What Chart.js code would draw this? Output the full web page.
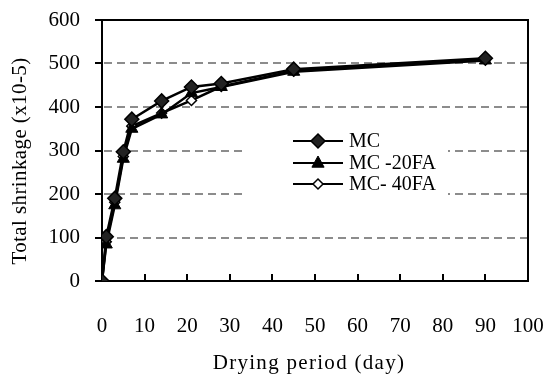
<!DOCTYPE html>
<html>
<head>
<meta charset="utf-8">
<script src="https://cdn.jsdelivr.net/npm/chart.js@4"></script>
<style>
  html, body { margin: 0; padding: 0; background: #fff; }
  #wrap { width: 550px; height: 374px; }
</style>
</head>
<body>
<div id="wrap"><canvas id="shrinkChart" width="550" height="374"></canvas></div>
<script>
const days = [0, 1, 3, 5, 7, 14, 21, 28, 45, 90];
const mc = [0, 102, 190, 297, 372, 414, 446, 454, 487, 512];
const mc20fa = [0, 84, 174, 281, 350, 383, 432, 446, 481, 507];
const mc40fa = [0, 90, 181, 286, 356, 386, 415, 447, 483, 509];
const seriesNames = ["MC", "MC -20FA", "MC- 40FA"];
const yTicks = [0, 100, 200, 300, 400, 500, 600];
const xTicks = [0, 10, 20, 30, 40, 50, 60, 70, 80, 90, 100];
const xTitle = "Drying period (day)";
const yTitle = "Total shrinkage (x10-5)";

const FONT = "'Liberation Serif', 'Times New Roman', serif";

const toPoints = vals => days.map((d, i) => ({ x: d, y: vals[i] }));

function drawMarker(ctx, style, r, x, y) {
    ctx.beginPath();
    if (style === "triangle") {
        ctx.moveTo(x, y - r);
        ctx.lineTo(x + r * 0.87, y + r * 0.6);
        ctx.lineTo(x - r * 0.87, y + r * 0.6);
    } else {
        ctx.moveTo(x, y - r);
        ctx.lineTo(x + r, y);
        ctx.lineTo(x, y + r);
        ctx.lineTo(x - r, y);
    }
    ctx.closePath();
}

// dashed gridlines, inward x ticks, frame, titles and the legend box
const framePlugin = {
    id: "frame",
    beforeDatasetsDraw(chart) {
        const { ctx, chartArea: a, scales } = chart;
        ctx.save();
        ctx.strokeStyle = "#8c8c8c";
        ctx.lineWidth = 2;
        ctx.setLineDash([8, 5]);
        yTicks.slice(1, -1).forEach(v => {
            const y = Math.round(scales.y.getPixelForValue(v));
            ctx.beginPath();
            ctx.moveTo(a.left + 2, y);
            ctx.lineTo(a.right, y);
            ctx.stroke();
        });
        ctx.setLineDash([]);
        ctx.strokeStyle = "#000";
        ctx.lineWidth = 2;
        xTicks.slice(1, -1).forEach(v => {
            const x = Math.round(scales.x.getPixelForValue(v));
            ctx.beginPath();
            ctx.moveTo(x, a.bottom);
            ctx.lineTo(x, a.bottom - 7);
            ctx.stroke();
        });
        ctx.strokeRect(a.left, a.top, a.right - a.left, a.bottom - a.top);
        ctx.restore();
    },
    afterDatasetsDraw(chart) {
        const { ctx } = chart;
        ctx.save();
        ctx.fillStyle = "#fff";
        ctx.fillRect(247, 128, 201, 72);
        const rows = [141, 163, 184];
        chart.data.datasets.forEach((ds, i) => {
            const y = rows[i];
            ctx.strokeStyle = "#000";
            ctx.lineWidth = 2;
            ctx.beginPath();
            ctx.moveTo(293, y);
            ctx.lineTo(343, y);
            ctx.stroke();
            ctx.fillStyle = ds.pointBackgroundColor;
            ctx.strokeStyle = ds.pointBorderColor;
            ctx.lineWidth = ds.pointBorderWidth;
            drawMarker(ctx, ds.pointStyle, ds.pointRadius, 318, y);
            ctx.fill();
            ctx.stroke();
            ctx.fillStyle = "#000";
            ctx.font = "20px " + FONT;
            ctx.textBaseline = "middle";
            ctx.textAlign = "left";
            ctx.fillText(ds.label, 349, y + 1);
        });

        // axis titles, with the wide spacing of the original
        ctx.fillStyle = "#000";
        ctx.font = "21px " + FONT;
        ctx.textAlign = "center";
        ctx.textBaseline = "middle";
        ctx.letterSpacing = "1.3px";
        ctx.fillText(xTitle, 309, 363);
        ctx.letterSpacing = "0.4px";
        ctx.translate(20, 161);
        ctx.rotate(-Math.PI / 2);
        ctx.fillText(yTitle, 0, 0);
        ctx.restore();
    }
};

const baseSet = {
    borderColor: "#000",
    borderWidth: 2.5,
    pointBorderColor: "#000",
    tension: 0
};

new Chart(document.getElementById("shrinkChart"), {
    type: "line",
    data: {
        datasets: [
            { ...baseSet, label: seriesNames[0], data: toPoints(mc),
              pointStyle: "rectRot", pointRadius: 7, pointBackgroundColor: "#222", pointBorderWidth: 1.5 },
            { ...baseSet, label: seriesNames[1], data: toPoints(mc20fa),
              pointStyle: "triangle", pointRadius: 7, pointBackgroundColor: "#000", pointBorderWidth: 1 },
            { ...baseSet, label: seriesNames[2], data: toPoints(mc40fa),
              pointStyle: "rectRot", pointRadius: 5, pointBackgroundColor: "#fff", pointBorderWidth: 1.5 }
        ]
    },
    options: {
        responsive: false,
        animation: false,
        layout: { padding: { top: 20, right: 22, left: 0, bottom: 0 } },
        plugins: {
            legend: { display: false },
            tooltip: { enabled: false }
        },
        scales: {
            x: {
                type: "linear",
                min: 0,
                max: 100,
                afterBuildTicks: s => { s.ticks = xTicks.map(v => ({ value: v })); },
                afterFit: s => {
                    s.height = 93;
                    s.paddingLeft = 0;
                    s.paddingRight = 0;
                },
                grid: { display: false },
                border: { display: false },
                ticks: {
                    color: "#000",
                    padding: 25,
                    maxRotation: 0,
                    font: { family: FONT, size: 21 }
                }
            },
            y: {
                min: 0,
                max: 600,
                afterBuildTicks: s => { s.ticks = yTicks.map(v => ({ value: v })); },
                afterFit: s => {
                    s.width = 102;
                    s.paddingTop = 0;
                    s.paddingBottom = 0;
                },
                grid: {
                    drawOnChartArea: false,
                    color: "#000",
                    lineWidth: 2,
                    tickLength: 7
                },
                border: { display: false },
                ticks: {
                    color: "#000",
                    padding: 15,
                    font: { family: FONT, size: 21 }
                }
            }
        }
    },
    plugins: [framePlugin]
});
</script>
</body>
</html>
